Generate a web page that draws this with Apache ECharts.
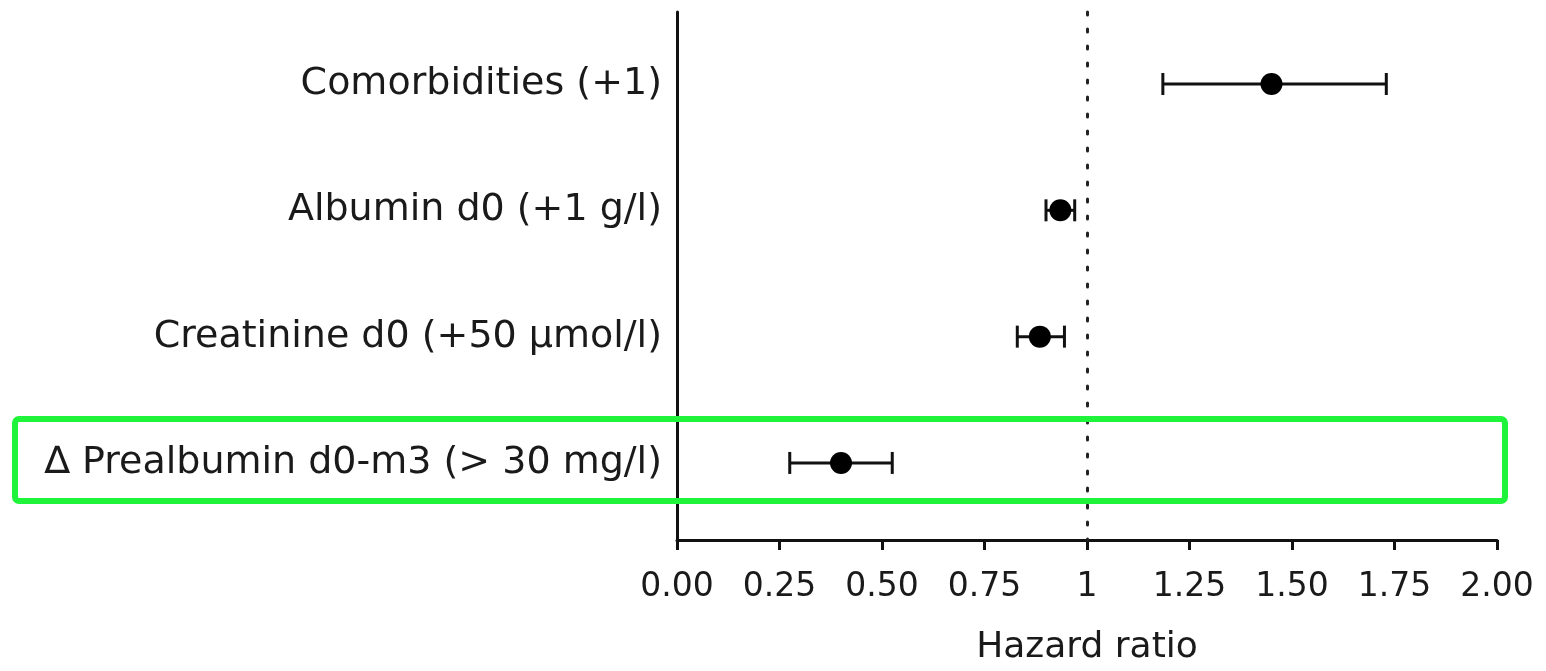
<!DOCTYPE html>
<html>
<head>
<meta charset="utf-8">
<style>html,body{margin:0;padding:0;background:#fff}#c{width:1546px;height:671px}</style>
<script src="https://cdn.jsdelivr.net/npm/echarts@6/dist/echarts.min.js"></script>
</head>
<body>
<div id="c"></div>
<script>
const categories = ['Comorbidities (+1)', 'Albumin d0 (+1 g/l)', 'Creatinine d0 (+50 µmol/l)', '∆ Prealbumin d0-m3 (> 30 mg/l)'];
const hazardRatio = [1.45, 0.935, 0.885, 0.40];
const ciLow = [1.185, 0.90, 0.83, 0.275];
const ciHigh = [1.73, 0.97, 0.945, 0.525];
const xTickLabels = ['0.00', '0.25', '0.50', '0.75', '1', '1.25', '1.50', '1.75', '2.00'];
const referenceLine = 1;
const highlightedRow = 3;

const FONT = 'DejaVu Sans';
const INK = '#111';

const chart = echarts.init(document.getElementById('c'));
chart.setOption({
  animation: false,
  backgroundColor: '#fff',
  grid: { left: 677, width: 820, top: 12, height: 537, containLabel: false },
  xAxis: {
    type: 'value', min: 0, max: 2, interval: 0.25,
    axisLine: { show: true, onZero: false, lineStyle: { color: INK, width: 3 } },
    axisTick: { show: true, length: 10, lineStyle: { color: INK, width: 3 } },
    splitLine: { show: false },
    axisLabel: {
      color: '#1a1a1a', fontFamily: FONT, fontSize: 33, margin: 31,
      formatter: (v) => xTickLabels[Math.round(v / 0.25)]
    },
    name: 'Hazard ratio', nameLocation: 'middle', nameGap: 90,
    nameTextStyle: { color: '#1a1a1a', fontFamily: FONT, fontSize: 36 }
  },
  yAxis: {
    type: 'value', inverse: true, min: -0.57, max: 3.61,
    axisLine: { show: true, onZero: false, lineStyle: { color: INK, width: 3 } },
    axisTick: { show: false },
    splitLine: { show: false },
    axisLabel: {
      show: true, customValues: [0, 1, 2, 3],
      color: '#1a1a1a', fontFamily: FONT, fontSize: 38, margin: 15,
      formatter: (v) => categories[Math.round(v)]
    }
  },
  series: [
    {
      type: 'custom',
      name: 'ci',
      encode: { x: [0, 1], y: 2 },
      data: categories.map((c, i) => [ciLow[i], ciHigh[i], i]),
      renderItem: (params, api) => {
        const p1 = api.coord([api.value(0), api.value(2)]);
        const p2 = api.coord([api.value(1), api.value(2)]);
        const cap = 11;
        const st = { stroke: INK, lineWidth: 3 };
        return {
          type: 'group',
          children: [
            { type: 'line', shape: { x1: p1[0], y1: p1[1], x2: p2[0], y2: p2[1] }, style: st },
            { type: 'line', shape: { x1: p1[0], y1: p1[1] - cap, x2: p1[0], y2: p1[1] + cap }, style: st },
            { type: 'line', shape: { x1: p2[0], y1: p2[1] - cap, x2: p2[0], y2: p2[1] + cap }, style: st }
          ]
        };
      },
      z: 3
    },
    {
      type: 'scatter',
      name: 'hr',
      symbol: 'circle',
      symbolSize: 22,
      itemStyle: { color: '#000', opacity: 1 },
      data: categories.map((c, i) => [hazardRatio[i], i]),
      z: 4,
      markLine: {
        silent: true,
        symbol: 'none',
        label: { show: false },
        lineStyle: { color: '#222', width: 3, type: [3, 14], cap: 'round' },
        data: [{ xAxis: referenceLine }]
      }
    },
    {
      type: 'custom',
      name: 'highlight',
      clip: false,
      encode: { x: 0, y: 1 },
      data: [[0, highlightedRow]],
      renderItem: (params, api) => {
        const c = api.coord([api.value(0), api.value(1)]);
        const right = api.coord([2, api.value(1)])[0] + 8;
        const h = 82;
        return {
          type: 'rect',
          shape: { x: 15, y: c[1] - h / 2 - 3, width: right - 15, height: h, r: 4 },
          style: { fill: 'none', stroke: '#1ff43a', lineWidth: 6 }
        };
      },
      z: 5
    }
  ]
});
</script>
</body>
</html>
